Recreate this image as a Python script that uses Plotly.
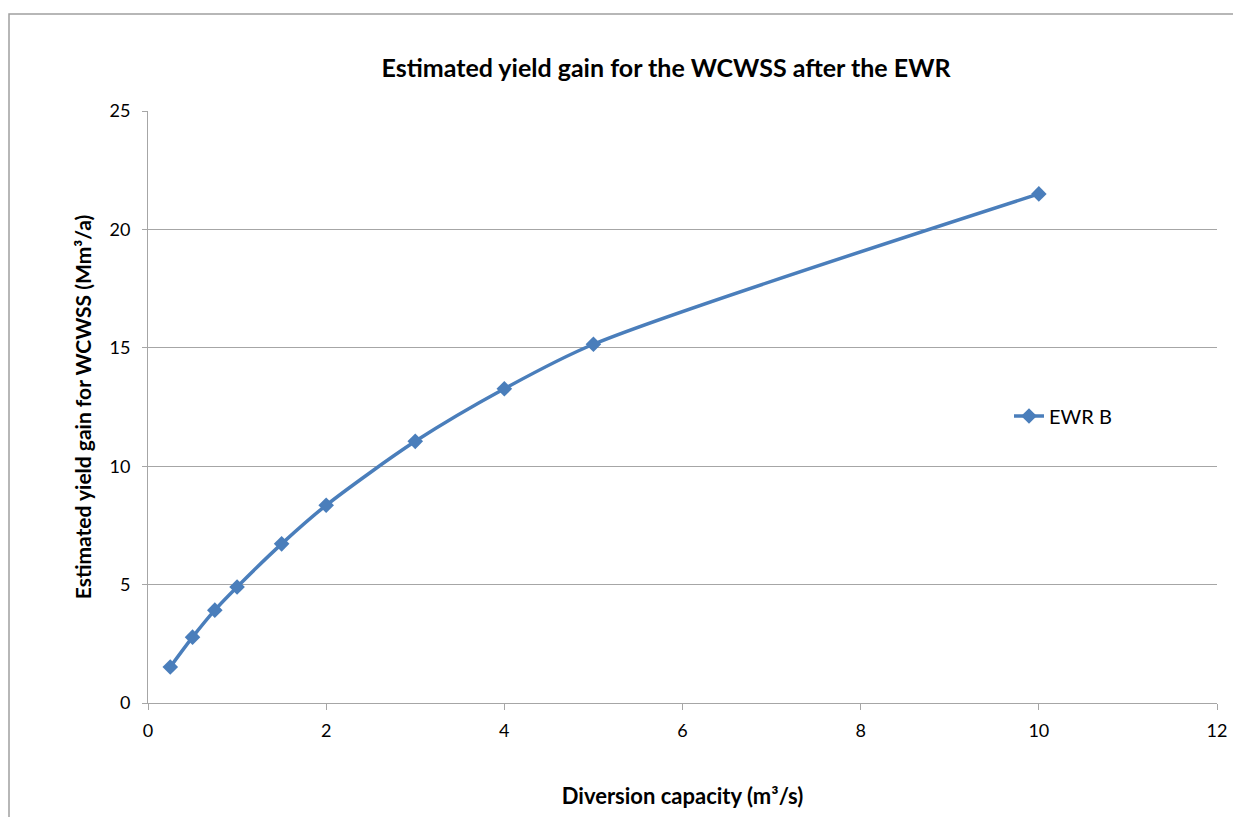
import plotly.graph_objects as go

capacity = [0.25, 0.5, 0.75, 1, 1.5, 2, 3, 4, 5, 10]
yield_gain = [1.52, 2.78, 3.92, 4.9, 6.72, 8.35, 11.05, 13.27, 15.15, 21.5]
series_name = "EWR B"

FONT = "Lato, 'Open Sans', sans-serif"
BLUE = "#4A7EBB"
GRID = "#A6A6A6"

# page has an 8px body margin; work in figure coordinates
W, H = 1233, 809
L, T = 140, 103
R = W - 1209
B = H - 695
pw, ph = W - L - R, H - T - B

fig = go.Figure()
fig.add_trace(go.Scatter(
    x=capacity, y=yield_gain, name=series_name, mode="lines+markers",
    line=dict(color=BLUE, width=3.5, shape="spline", smoothing=0.8),
    marker=dict(symbol="diamond", size=12, color=BLUE),
))

fig.update_layout(
    width=W, height=H,
    margin=dict(l=L, r=R, t=T, b=B),
    paper_bgcolor="white", plot_bgcolor="white",
    font=dict(family=FONT, size=18, color="black"),
    showlegend=True,
    legend=dict(x=(1001 - L) / pw, y=(695 - 408) / ph, xanchor="left", yanchor="middle",
                font=dict(size=20), bgcolor="rgba(0,0,0,0)", itemwidth=30),
    title=dict(text="<b>Estimated yield gain for the WCWSS after the EWR</b>",
               x=658 / W, xanchor="center", y=1 - 60 / H, yanchor="middle",
               font=dict(size=25, family=FONT)),
    xaxis=dict(range=[0, 12], dtick=2, showgrid=False, zeroline=False,
               showline=True, linecolor=GRID, linewidth=1,
               ticks="outside", ticklen=6, tickcolor=GRID,
               tickfont=dict(size=18), ticklabelstandoff=5,
               title=dict(text="<b>Diversion capacity (m³/s)</b>", font=dict(size=22), standoff=49)),
    yaxis=dict(range=[0, 25], dtick=5, showgrid=True, gridcolor=GRID, gridwidth=1,
               zeroline=False, showline=True, linecolor=GRID, linewidth=1,
               ticks="outside", ticklen=5, tickcolor=GRID,
               tickfont=dict(size=18), ticklabelstandoff=8,
               title=dict(text="<b>Estimated yield gain for WCWSS (Mm³/a)</b>", font=dict(size=21), standoff=12)),
    shapes=[dict(type="rect", xref="paper", yref="paper",
                 x0=(1 - L) / pw, x1=(W + 20 - L) / pw,
                 y0=(695 - 830) / ph, y1=(695 - 6) / ph,
                 line=dict(color="#A0A0A0", width=1.5), fillcolor="rgba(0,0,0,0)", layer="below")],
)

fig.write_html("out.html")
